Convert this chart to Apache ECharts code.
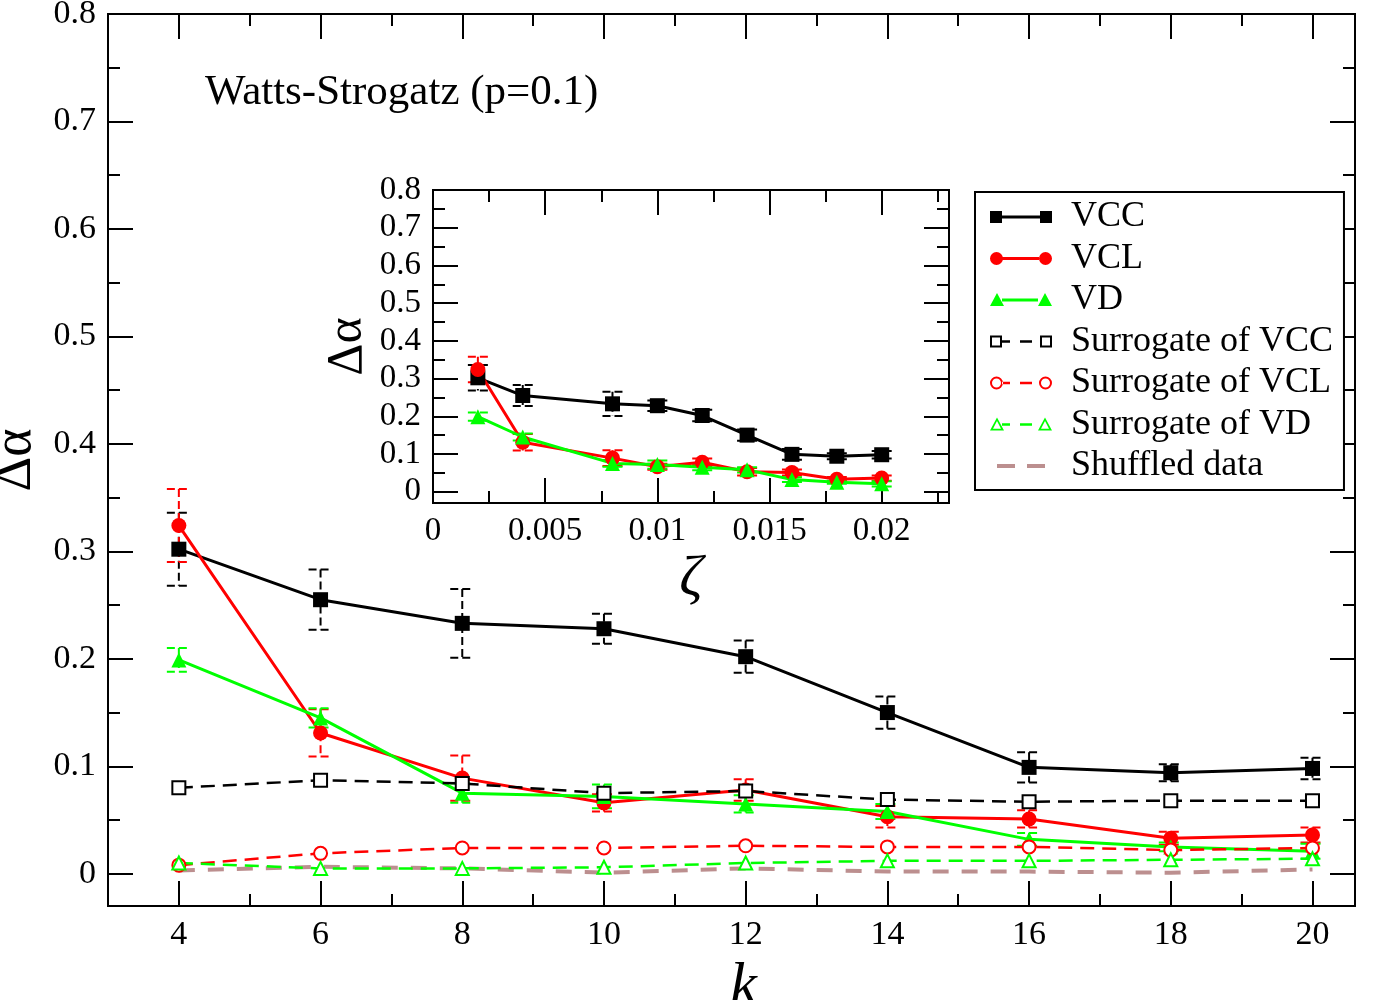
<!DOCTYPE html>
<html>
<head>
<meta charset="utf-8">
<script src="https://cdn.jsdelivr.net/npm/echarts@6/dist/echarts.min.js"></script>
<style>
  html, body { margin: 0; padding: 0; background: #fff; }
  #chart { width: 1386px; height: 1000px; }
</style>
</head>
<body>
<div id="chart"></div>
<script>
// k on the main plot, zeta on the inset (same measurements)
const kValues = [4, 6, 8, 10, 12, 14, 16, 18, 20]
const zetaValues = [0.002, 0.004, 0.008, 0.01, 0.012, 0.014, 0.016, 0.018, 0.02]

const vcc = [0.302, 0.255, 0.233, 0.228, 0.202, 0.150, 0.099, 0.094, 0.098]
const vccErr = [0.034, 0.028, 0.032, 0.014, 0.015, 0.015, 0.014, 0.008, 0.010]
const vcl = [0.324, 0.131, 0.089, 0.066, 0.078, 0.053, 0.051, 0.033, 0.036]
const vclErr = [0.034, 0.022, 0.021, 0.008, 0.010, 0.010, 0.008, 0.006, 0.007]
const vd = [0.199, 0.145, 0.075, 0.072, 0.065, 0.058, 0.032, 0.025, 0.021]
const vdErr = [0.011, 0.009, 0.009, 0.011, 0.008, 0.007, 0.006, 0.004, 0.007]
const surrVcc = [0.080, 0.087, 0.084, 0.075, 0.077, 0.069, 0.067, 0.068, 0.068]
const surrVcl = [0.008, 0.019, 0.024, 0.024, 0.026, 0.025, 0.025, 0.022, 0.024]
const surrVd = [0.010, 0.005, 0.005, 0.006, 0.010, 0.012, 0.012, 0.013, 0.014]
const shuffled = [0.003, 0.0065, 0.005, 0.001, 0.005, 0.002, 0.002, 0.001, 0.004]

const kMajorTicks = [4, 6, 8, 10, 12, 14, 16, 18, 20]
const kMinorTicks = [3, 5, 7, 9, 11, 13, 15, 17, 19]
const alphaMajorTicks = [0, 0.1, 0.2, 0.3, 0.4, 0.5, 0.6, 0.7, 0.8]
const alphaMinorTicks = [0.05, 0.15, 0.25, 0.35, 0.45, 0.55, 0.65, 0.75]
const zetaMajorTicks = [0, 0.005, 0.01, 0.015, 0.02]
const zetaMinorTicks = [0.0025, 0.0075, 0.0125, 0.0175, 0.0225]

const FONT = 'Liberation Serif'
const GREEN = '#00ff00'
const RED = '#ff0000'
const BROWN = '#bc8f8f'

const fmt = (v) => String(+v.toFixed(4))

// four axes per side pair: labelled major, minor, mirrored major, mirrored minor
function makeAxes(dim, gridIndex, min, max, major, minor, labelSize, name, nameOpts) {
  const sides = dim === 'x' ? ['bottom', 'top'] : ['left', 'right']
  const base = {
    type: 'value', gridIndex, min, max,
    splitLine: { show: false },
    axisLine: { show: true, onZero: false, lineStyle: { color: '#000', width: 2 } }
  }
  const tick = (vals, len) => ({ show: true, inside: true, length: len, customValues: vals, lineStyle: { color: '#000', width: 2 } })
  return [
    {
      ...base, position: sides[0], axisTick: tick(major, 25),
      axisLabel: { customValues: major, formatter: fmt, margin: 12, fontFamily: FONT, fontSize: labelSize, color: '#000' },
      name, ...nameOpts
    },
    { ...base, position: sides[0], axisTick: tick(minor, 12), axisLabel: { show: false } },
    { ...base, position: sides[1], axisTick: tick(major, 25), axisLabel: { show: false } },
    { ...base, position: sides[1], axisTick: tick(minor, 12), axisLabel: { show: false } }
  ]
}

function errorBars(color, capHalf) {
  return function (params, api) {
    const x = api.value(0)
    const lo = api.coord([x, api.value(1)])
    const hi = api.coord([x, api.value(2)])
    const style = { stroke: color, lineWidth: 2, lineDash: [8, 4], fill: null }
    return {
      type: 'group',
      children: [
        { type: 'line', shape: { x1: hi[0], y1: hi[1], x2: lo[0], y2: lo[1] }, style },
        { type: 'line', shape: { x1: hi[0] - capHalf, y1: hi[1], x2: hi[0] + capHalf, y2: hi[1] }, style },
        { type: 'line', shape: { x1: lo[0] - capHalf, y1: lo[1], x2: lo[0] + capHalf, y2: lo[1] }, style }
      ]
    }
  }
}

const pairs = (xs, ys) => xs.map((x, i) => [x, ys[i]])
const bars = (xs, ys, es) => xs.map((x, i) => [x, ys[i] - es[i], ys[i] + es[i]])

function lineSeries(name, xs, ys, color, symbol, dashed, axisIdx) {
  const empty = symbol.startsWith('empty')
  return {
    name, type: 'line', xAxisIndex: axisIdx, yAxisIndex: axisIdx,
    data: pairs(xs, ys),
    symbol, symbolSize: empty ? 13 : 15,
    lineStyle: { color, width: dashed ? 2.5 : 3, type: dashed ? [14, 8] : 'solid' },
    itemStyle: { color, borderColor: color, borderWidth: empty ? 2 : 0 },
    z: 3
  }
}

function barSeries(xs, ys, es, color, capHalf, axisIdx) {
  return {
    type: 'custom', xAxisIndex: axisIdx, yAxisIndex: axisIdx,
    data: bars(xs, ys, es),
    encode: { x: 0, y: [1, 2] },
    renderItem: errorBars(color, capHalf),
    z: 2, silent: true
  }
}

// legend samples in a 62x14 box, marker at both ends like the original
const BOX = 'M0,0h0.01v0.01h-0.01Z M62,14h-0.01v-0.01h0.01Z '
const SQUARE = (x) => `M${x},1h12v12h-12Z `
const OPEN_SQUARE = (x) => `M${x},1h12v12h-12Z M${x + 2},3v8h8v-8Z `
const CIRCLE = (x) => `M${x},7A6.5,6.5 0 1,1 ${x + 13},7A6.5,6.5 0 1,1 ${x},7Z `
const OPEN_CIRCLE = (x) => `M${x},7A6.5,6.5 0 1,0 ${x + 13},7A6.5,6.5 0 1,0 ${x},7Z M${x + 2},7A4.5,4.5 0 1,1 ${x + 11},7A4.5,4.5 0 1,1 ${x + 2},7Z `
const TRI = (x) => `M${x},13L${x + 7},0L${x + 14},13Z `
const OPEN_TRI = (x) => `M${x},13L${x + 7},0L${x + 14},13Z M${x + 3},11.3L${x + 11},11.3L${x + 7},3.6Z `
const BAR = (x1, x2, h) => `M${x1},${7 - h / 2}H${x2}V${7 + h / 2}H${x1}Z `
const solidIcon = (mark, x2) => 'path://' + BOX + mark(0) + BAR(12, x2, 3) + mark(x2)
const dashIcon = (mark, x2) => 'path://' + BOX + mark(0) + BAR(12, 20, 2.5) + BAR(30, 42, 2.5) + mark(x2)

const legendData = [
  { name: 'VCC', icon: solidIcon(SQUARE, 50), itemStyle: { color: '#000', borderWidth: 0 } },
  { name: 'VCL', icon: solidIcon(CIRCLE, 49), itemStyle: { color: RED, borderWidth: 0 } },
  { name: 'VD', icon: solidIcon(TRI, 48), itemStyle: { color: GREEN, borderWidth: 0 } },
  { name: 'Surrogate of VCC', icon: dashIcon(OPEN_SQUARE, 50), itemStyle: { color: '#000', borderWidth: 0 } },
  { name: 'Surrogate of VCL', icon: dashIcon(OPEN_CIRCLE, 49), itemStyle: { color: RED, borderWidth: 0 } },
  { name: 'Surrogate of VD', icon: dashIcon(OPEN_TRI, 48), itemStyle: { color: GREEN, borderWidth: 0 } },
  { name: 'Shuffled data', icon: 'path://' + BOX + BAR(7, 25, 4) + BAR(37, 55, 4), itemStyle: { color: BROWN, borderWidth: 0 } }
]

const chart = echarts.init(document.getElementById('chart'))

const xMain = makeAxes('x', 0, 3, 20.6, kMajorTicks, kMinorTicks, 34, 'k', {
  nameLocation: 'middle', nameGap: 37,
  nameTextStyle: { fontFamily: FONT, fontSize: 60, fontStyle: 'italic', color: '#000', padding: [0, 0, 0, 24] }
})
const yMain = makeAxes('y', 0, -0.03, 0.8, alphaMajorTicks, alphaMinorTicks, 34, 'Δα', {
  nameLocation: 'middle', nameGap: 54, nameRotate: 90,
  nameTextStyle: { fontFamily: FONT, fontSize: 54, color: '#000' }
})
const xInset = makeAxes('x', 1, 0, 0.023, zetaMajorTicks, zetaMinorTicks, 33, 'ζ', {
  nameLocation: 'middle', nameGap: 48,
  nameTextStyle: { fontFamily: FONT, fontSize: 58, fontStyle: 'italic', color: '#000' }
})
const yInset = makeAxes('y', 1, -0.03, 0.8, alphaMajorTicks, alphaMinorTicks, 33, 'Δα', {
  nameLocation: 'middle', nameGap: 60, nameRotate: 90,
  nameTextStyle: { fontFamily: FONT, fontSize: 50, color: '#000' }
})

chart.setOption({
  animation: false,
  backgroundColor: '#fff',
  title: {
    text: 'Watts-Strogatz (p=0.1)',
    left: 200, top: 66,
    textStyle: { fontFamily: FONT, fontSize: 43, fontWeight: 'normal', color: '#000' }
  },
  grid: [
    { left: 108, top: 14, right: 31, bottom: 94, containLabel: false, outerBoundsMode: 'none' },
    { left: 433, top: 190, right: 437, bottom: 497, show: true, backgroundColor: '#fff', borderWidth: 0, outerBoundsMode: 'none' }
  ],
  xAxis: [...xMain, ...xInset],
  yAxis: [...yMain, ...yInset],
  legend: {
    orient: 'vertical', left: 975, top: 192,
    data: legendData,
    itemWidth: 62, itemHeight: 14, itemGap: 5.5,
    padding: [7, 11, 6, 15],
    borderColor: '#000', borderWidth: 2, backgroundColor: '#fff',
    textStyle: { fontFamily: FONT, fontSize: 36, color: '#000', padding: [0, 0, 0, 14] }
  },
  series: [
    barSeries(kValues, vcc, vccErr, '#000', 12, 0),
    barSeries(kValues, vcl, vclErr, RED, 12, 0),
    barSeries(kValues, vd, vdErr, GREEN, 12, 0),
    lineSeries('VCC', kValues, vcc, '#000', 'rect', false, 0),
    lineSeries('VCL', kValues, vcl, RED, 'circle', false, 0),
    lineSeries('VD', kValues, vd, GREEN, 'triangle', false, 0),
    lineSeries('Surrogate of VCC', kValues, surrVcc, '#000', 'emptyRect', true, 0),
    lineSeries('Surrogate of VCL', kValues, surrVcl, RED, 'emptyCircle', true, 0),
    lineSeries('Surrogate of VD', kValues, surrVd, GREEN, 'emptyTriangle', true, 0),
    {
      name: 'Shuffled data', type: 'line', xAxisIndex: 0, yAxisIndex: 0,
      data: pairs(kValues, shuffled), symbol: 'none',
      lineStyle: { color: BROWN, width: 4, type: [16, 13] },
      itemStyle: { color: BROWN }, z: 1
    },
    barSeries(zetaValues, vcc, vccErr, '#000', 10, 4),
    barSeries(zetaValues, vcl, vclErr, RED, 10, 4),
    barSeries(zetaValues, vd, vdErr, GREEN, 10, 4),
    lineSeries('VCC inset', zetaValues, vcc, '#000', 'rect', false, 4),
    lineSeries('VCL inset', zetaValues, vcl, RED, 'circle', false, 4),
    lineSeries('VD inset', zetaValues, vd, GREEN, 'triangle', false, 4)
  ]
})
</script>
</body>
</html>
